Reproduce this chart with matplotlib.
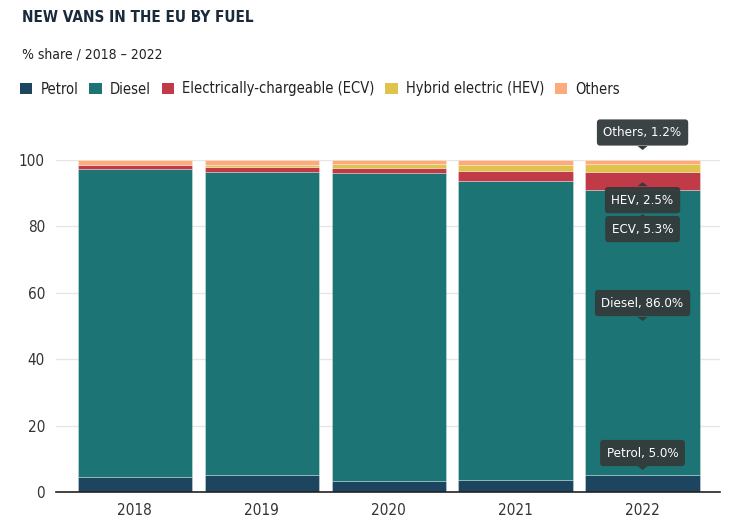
import matplotlib
matplotlib.use("Agg")
import matplotlib.pyplot as plt
import matplotlib.transforms as mtransforms
from matplotlib.patches import Polygon, Patch

plt.rcParams["font.family"] = ["DejaVu Sans"]
plt.rcParams["font.stretch"] = "condensed"

years = ["2018", "2019", "2020", "2021", "2022"]
fuels = ["Petrol", "Diesel", "Electrically-chargeable (ECV)", "Hybrid electric (HEV)", "Others"]
short = ["Petrol", "Diesel", "ECV", "HEV", "Others"]
petrol = [4.5, 5.1, 3.3, 3.6, 5.0]
diesel = [92.9, 91.4, 92.7, 90.2, 86.0]
ecv = [1.0, 1.5, 1.5, 3.0, 5.3]
hev = [0.2, 0.5, 1.2, 1.7, 2.5]
others = [1.4, 1.5, 1.3, 1.5, 1.2]
colors = ["#1d4560", "#1c7574", "#c03a47", "#e0c34a", "#fdab7a"]

series = [petrol, diesel, ecv, hev, others]

fig = plt.figure(figsize=(7.36, 5.28), dpi=100)
ax = fig.add_axes([56 / 736, 36 / 528, 664 / 736, 332 / 528])

x = list(range(len(years)))
bottom = [0.0] * len(years)
bottoms = []
for vals, col in zip(series, colors):
    bottoms.append(list(bottom))
    ax.bar(x, vals, bottom=bottom, width=0.9, color=col,
           edgecolor=(1, 1, 1, 0.35), linewidth=0.6, zorder=2)
    bottom = [b + v for b, v in zip(bottom, vals)]

ax.set_xlim(-0.62, 4.61)
ax.set_ylim(0, 100)
ax.set_yticks([0, 20, 40, 60, 80, 100])
ax.set_xticks(x)
ax.set_xticklabels(years)
ax.grid(axis="y", color="#e6e6e6", linewidth=1, zorder=0)
for s in ["top", "right", "left"]:
    ax.spines[s].set_visible(False)
ax.spines["bottom"].set_color("#222222")
ax.spines["bottom"].set_linewidth(1.2)
ax.spines["bottom"].set_zorder(3)
ax.tick_params(axis="both", length=0, labelsize=11, colors="#333333", pad=8)
ax.tick_params(axis="y", pad=8)


def tooltip(i, k, y_anchor, box_dy, tip_dy, up):
    """Dark label box with a small pointer, placed relative to a segment."""
    label = "%s, %.1f%%" % (short[k], series[k][i])
    tr = mtransforms.offset_copy(ax.transData, fig=fig, x=0, y=box_dy, units="dots")
    ax.text(i, y_anchor, label, transform=tr, ha="center", va="center",
            fontsize=9.5, color="white", zorder=6, clip_on=False,
            bbox=dict(boxstyle="round,pad=0.5,rounding_size=0.25",
                      fc="#333b3c", ec="none", alpha=0.96))
    base = 4 if up else -4
    pts = []
    for dx, dy in [(-5, -base), (5, -base), (0, 0)]:
        t = mtransforms.offset_copy(ax.transData, fig=fig, x=dx, y=tip_dy + dy, units="dots")
        pts.append(t.transform((i, y_anchor)))
    fig.patches.append(Polygon(pts, closed=True, fc="#333b3c", ec="none",
                               zorder=6, clip_on=False, transform=None))


last = len(years) - 1
tooltip(last, 4, 100, 27.5, 10, up=False)
tooltip(last, 3, bottoms[3][last] + hev[last] / 2, -32, -14, up=True)
tooltip(last, 2, bottoms[2][last] + ecv[last] / 2, -48, -33, up=True)
tooltip(last, 1, bottoms[1][last] + diesel[last] / 2, 29.6, 11.6, up=False)
tooltip(last, 0, bottoms[0][last] + petrol[last] / 2, 30.7, 13.7, up=False)

fig.text(22 / 736, 1 - 18 / 528, "NEW VANS IN THE EU BY FUEL", fontsize=11,
         fontweight="bold", color="#1a2a3a", va="center", ha="left")
fig.text(22 / 736, 1 - 54 / 528, "% share / 2018 \u2013 2022", fontsize=10,
         color="#222222", va="center", ha="left")

handles = [Patch(facecolor=c, edgecolor="none", label=f) for c, f in zip(colors, fuels)]
fig.legend(handles=handles, loc="center left", bbox_to_anchor=(20 / 736, 1 - 89 / 528),
           ncol=5, frameon=False, fontsize=10.5, handlelength=0.85, handleheight=0.85,
           handletextpad=0.55, columnspacing=0.75, borderpad=0, borderaxespad=0,
           labelcolor="#222222")

fig.savefig("out.png", dpi=100)
